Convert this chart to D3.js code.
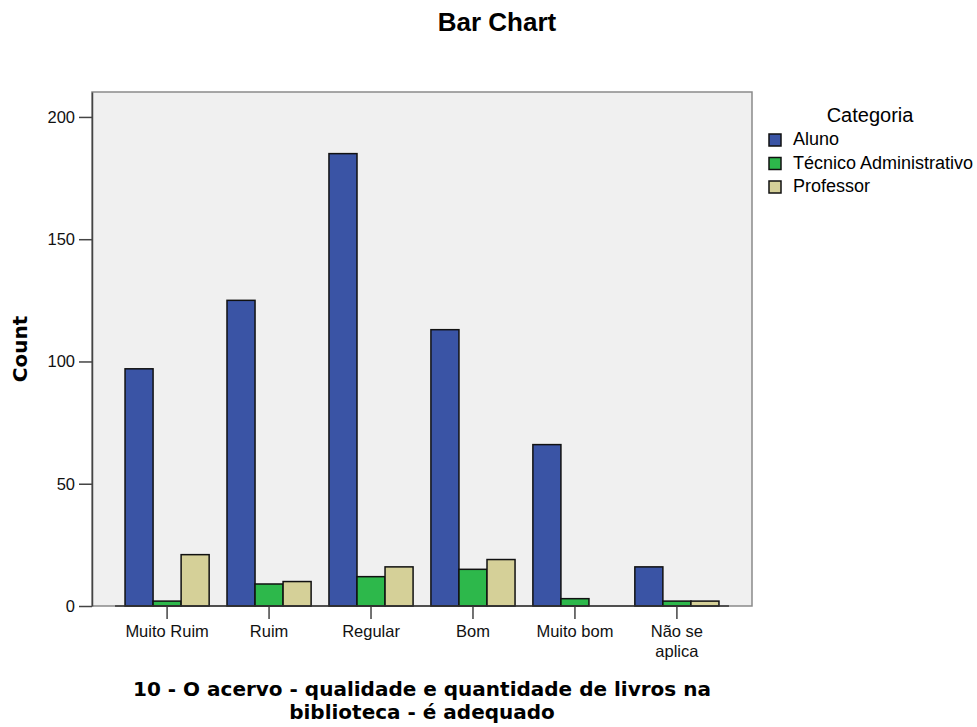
<!DOCTYPE html>
<html>
<head>
<meta charset="utf-8">
<script src="https://cdn.jsdelivr.net/npm/d3@7"></script>
<style>
  body { margin: 0; background: #fff; }
  svg { font-family: "Liberation Sans", Arial, sans-serif; }
</style>
</head>
<body>
<svg id="chart" width="977" height="727"></svg>
<script>
// data
const categories = ["Muito Ruim", "Ruim", "Regular", "Bom", "Muito bom", "Não se aplica"];
const series = ["Aluno", "Técnico Administrativo", "Professor"];
const aluno = [97, 125, 185, 113, 66, 16];
const tecnico = [2, 9, 12, 15, 3, 2];
const professor = [21, 10, 16, 19, 0, 2];
const yTicks = [0, 50, 100, 150, 200];

const colors = ["#3a54a5", "#2db84b", "#d5d098"];
const values = [aluno, tecnico, professor];

const svg = d3.select("#chart");
const plot = { left: 92, right: 752, top: 92, bottom: 606 };
const axisFont = "DejaVu Sans, Verdana, sans-serif";

// scales
const x = d3.scaleBand()
  .domain(categories)
  .range([plot.left, plot.right])
  .paddingInner(0.175)
  .paddingOuter(0.324);

const xInner = d3.scaleBand()
  .domain(series)
  .range([0, x.bandwidth()]);

const y = d3.scaleLinear()
  .domain([0, 210.2])
  .range([plot.bottom, plot.top]);

// plot background
svg.append("rect")
  .attr("x", plot.left).attr("y", plot.top)
  .attr("width", plot.right - plot.left)
  .attr("height", plot.bottom - plot.top)
  .attr("fill", "#f0f0f0")
  .attr("stroke", "#8a8a8a")
  .attr("stroke-width", 1.5);

// bars
const rows = [];
categories.forEach((c, i) => {
  series.forEach((s, j) => {
    if (values[j][i] > 0) rows.push({ cat: c, ser: s, v: values[j][i], color: colors[j] });
  });
});

svg.append("g").selectAll("rect")
  .data(rows)
  .join("rect")
  .attr("x", d => x(d.cat) + xInner(d.ser))
  .attr("y", d => y(d.v))
  .attr("width", xInner.bandwidth())
  .attr("height", d => y(0) - y(d.v))
  .attr("fill", d => d.color)
  .attr("stroke", "#111")
  .attr("stroke-width", 1.5);

// y axis
const yAxis = svg.append("g")
  .attr("transform", `translate(${plot.left},0)`)
  .call(d3.axisLeft(y).tickValues(yTicks).tickSize(13).tickPadding(4).tickSizeOuter(0));
yAxis.select(".domain").attr("stroke", "#444").attr("stroke-width", 1.5);
yAxis.selectAll(".tick line").attr("stroke", "#444").attr("stroke-width", 1.5);
yAxis.selectAll(".tick text").attr("font-size", 16.5).attr("fill", "#111")
  .attr("font-family", "Liberation Sans, Arial, sans-serif");

// x axis
const xAxis = svg.append("g")
  .attr("transform", `translate(0,${plot.bottom})`)
  .call(d3.axisBottom(x).tickSize(13).tickPadding(6).tickSizeOuter(0));
xAxis.select(".domain").remove();
xAxis.selectAll(".tick line").attr("stroke", "#444").attr("stroke-width", 1.5);
xAxis.selectAll(".tick text").attr("font-size", 16.5).attr("fill", "#111")
  .attr("font-family", "Liberation Sans, Arial, sans-serif")
  .call(wrap, 92);

// dark baseline spanning the bar groups
const x0 = x(categories[0]) - 10;
const x1 = x(categories[categories.length - 1]) + x.bandwidth() + 10;
svg.append("line")
  .attr("x1", x0).attr("x2", x1)
  .attr("y1", y(0)).attr("y2", y(0))
  .attr("stroke", "#333").attr("stroke-width", 1.5);

function wrap(text, width) {
  text.each(function () {
    const t = d3.select(this);
    const words = t.text().split(/\s+/);
    const dy = parseFloat(t.attr("dy")) || 0;
    t.text(null);
    let line = [];
    let tspan = t.append("tspan").attr("x", 0).attr("dy", dy + "em");
    words.forEach(w => {
      line.push(w);
      tspan.text(line.join(" "));
      if (tspan.node().getComputedTextLength() > width && line.length > 1) {
        line.pop();
        tspan.text(line.join(" "));
        line = [w];
        tspan = t.append("tspan").attr("x", 0).attr("dy", "1.25em").text(w);
      }
    });
  });
}

// titles
svg.append("text")
  .attr("x", 497).attr("y", 31)
  .attr("text-anchor", "middle")
  .attr("font-size", 26).attr("font-weight", "bold")
  .text("Bar Chart");

svg.append("text")
  .attr("transform", `translate(27,${(plot.top + plot.bottom) / 2}) rotate(-90)`)
  .attr("text-anchor", "middle")
  .attr("font-family", axisFont)
  .attr("font-size", 20).attr("font-weight", "bold")
  .text("Count");

const xTitle = svg.append("text")
  .attr("text-anchor", "middle")
  .attr("font-family", axisFont)
  .attr("font-size", 20).attr("font-weight", "bold");
xTitle.append("tspan").attr("x", (plot.left + plot.right) / 2).attr("y", 696)
  .text("10 - O acervo - qualidade e quantidade de livros na");
xTitle.append("tspan").attr("x", (plot.left + plot.right) / 2).attr("y", 719)
  .text("biblioteca - é adequado");

// legend
const legend = svg.append("g");
legend.append("text")
  .attr("x", 870).attr("y", 122)
  .attr("text-anchor", "middle")
  .attr("font-size", 20)
  .text("Categoria");

const item = legend.selectAll("g.item")
  .data(series)
  .join("g")
  .attr("class", "item")
  .attr("transform", (d, i) => `translate(769,${134 + i * 23.5})`);
item.append("rect")
  .attr("width", 12).attr("height", 12)
  .attr("fill", (d, i) => colors[i])
  .attr("stroke", "#111").attr("stroke-width", 1.5);
item.append("text")
  .attr("x", 24).attr("y", 11)
  .attr("font-size", 18)
  .text(d => d);
</script>
</body>
</html>
